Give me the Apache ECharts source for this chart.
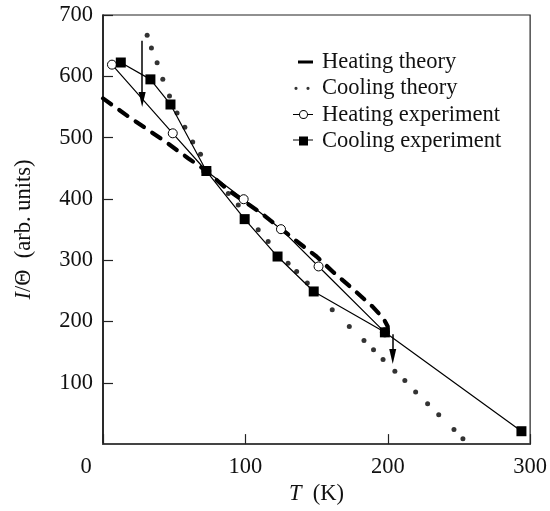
<!DOCTYPE html>
<html><head><meta charset="utf-8">
<script src="https://cdn.jsdelivr.net/npm/echarts@6/dist/echarts.min.js"></script>
<style>html,body{margin:0;padding:0;background:#fff}#c{width:550px;height:511px}</style>
</head><body><div id="c"></div>
<script>
// ---- data ----
const xTicks = [0, 100, 200, 300];
const yTicks = [100, 200, 300, 400, 500, 600, 700];

const heatingTheoryT = [0, 18, 32, 44, 60, 73, 88, 111, 135, 150, 162, 176, 189, 197, 200];
const heatingTheoryV = [564, 534, 512, 493, 466, 445, 414, 377, 333, 306, 280, 252, 225, 205, 192];

const coolingTheoryT = [31, 34, 38, 42, 46.7, 52, 57.5, 63, 68.5, 88, 95, 109, 116, 130, 136, 143.5, 161, 173, 183.3, 190, 196.7, 205, 212, 219.6, 228, 235.8, 246.5, 252.8];
const coolingTheoryV = [667, 646, 622, 595, 568, 540, 517, 493, 473, 409, 390, 349.5, 330.5, 295, 281.6, 262.7, 219, 192, 169, 154, 138, 119, 103.7, 85, 66, 48, 24, 8.8];

const heatingExpT = [6.3, 49, 72.6, 98.8, 125, 151.4, 198];
const heatingExpV = [619, 507, 445.5, 399.5, 350.6, 289.8, 182.3];

const coolingExpT = [12.5, 33.3, 47.4, 72.6, 99.5, 122.6, 148, 198, 293.9];
const coolingExpV = [622.5, 595, 554, 445.5, 367, 306, 249, 182.3, 21];

// arrows: [T, from value, T, to value]
const arrows = [[27.5, 658, 27.5, 562], [203.5, 179, 203.5, 143]];

const seriesNames = ['Heating theory', 'Cooling theory', 'Heating experiment', 'Cooling experiment'];

// ---- chart ----
const zip = (a, b) => a.map((v, i) => [v, b[i]]);
const FONT = 'Liberation Serif';
const FS = 22.5;
const TXT = '#111';

const icons = [
  'path://M0,0 M26,10 M7,3.5 L22,3.5 L22,6.5 L7,6.5 Z',
  'path://M0,0 M26,10 M6.6,5 A1.6,1.6 0 1 1 3.4,5 A1.6,1.6 0 1 1 6.6,5 Z M18.6,5 A1.6,1.6 0 1 1 15.4,5 A1.6,1.6 0 1 1 18.6,5 Z',
  'path://M0,0 M26,10 M2,4.5 L8,4.5 L8,5.5 L2,5.5 Z M17,5 A4.5,4.5 0 1 1 8,5 A4.5,4.5 0 1 1 17,5 Z M16,5 A3.5,3.5 0 1 0 9,5 A3.5,3.5 0 1 0 16,5 Z M17,4.5 L22,4.5 L22,5.5 L17,5.5 Z',
  'path://M0,0 M26,10 M2,3.6 L8,3.6 L8,4.6 L2,4.6 Z M8,0.5 L17,0.5 L17,9.5 L8,9.5 Z M17,3.6 L22,3.6 L22,4.6 L17,4.6 Z'
];

const chart = echarts.init(document.getElementById('c'), null, {renderer: 'canvas'});
chart.setOption({
  animation: false,
  backgroundColor: '#fff',
  grid: {left: 103, right: 15, top: 15, bottom: 66, show: true, borderColor: '#222', borderWidth: 1.2, backgroundColor: 'transparent'},
  legend: {
    orient: 'vertical', left: 286, top: 45.5, itemWidth: 26, itemHeight: 10, itemGap: 3.3,
    selectedMode: false,
    textStyle: {fontFamily: FONT, fontSize: FS, color: TXT},
    data: seriesNames.map((n, i) => ({name: n, icon: icons[i], itemStyle: {color: '#000', borderWidth: 0}}))
  },
  xAxis: {
    type: 'value', min: xTicks[0], max: xTicks[xTicks.length - 1], interval: xTicks[1] - xTicks[0],
    name: '{i|T}  (K)', nameLocation: 'middle', nameGap: 37,
    nameTextStyle: {fontFamily: FONT, fontSize: FS, color: TXT, rich: {i: {fontFamily: FONT, fontSize: FS, fontStyle: 'italic', color: TXT}}},
    axisLine: {show: true, onZero: false, lineStyle: {color: '#444', width: 2}},
    axisTick: {show: true, inside: true, length: 10, lineStyle: {color: '#222', width: 1.2}},
    axisLabel: {margin: 11, fontFamily: FONT, fontSize: FS, color: TXT,
      formatter: v => v === 0 ? '{z|0}' : String(v),
      rich: {z: {fontFamily: FONT, fontSize: FS, color: TXT, padding: [0, 34, 0, 0]}}},
    splitLine: {show: false}
  },
  yAxis: {
    type: 'value', min: 0, max: yTicks[yTicks.length - 1], interval: yTicks[1] - yTicks[0],
    name: '{i|I}/Θ  (arb. units)', nameLocation: 'middle', nameGap: 67,
    nameTextStyle: {fontFamily: FONT, fontSize: FS, color: TXT, rich: {i: {fontFamily: FONT, fontSize: FS, fontStyle: 'italic', color: TXT}}},
    axisLine: {show: true, lineStyle: {color: '#111', width: 1.5}},
    axisTick: {show: true, inside: true, length: 10, lineStyle: {color: '#222', width: 1.2}},
    axisLabel: {margin: 10, fontFamily: FONT, fontSize: FS, color: TXT, showMinLabel: false},
    splitLine: {show: false}
  },
  series: [
    {
      name: seriesNames[0], type: 'line', data: zip(heatingTheoryT, heatingTheoryV),
      symbol: 'none', showSymbol: false, z: 2, emphasis: {disabled: true},
      lineStyle: {color: '#000', width: 4.2, type: [10, 10], cap: 'round'},
      itemStyle: {color: '#000'},
      markLine: {
        silent: true, symbol: ['none', 'triangle'], symbolSize: [7, 15], animation: false,
        label: {show: false}, emphasis: {disabled: true},
        lineStyle: {color: '#000', width: 1.5, type: 'solid'},
        data: arrows.map(a => [{coord: [a[0], a[1]]}, {coord: [a[2], a[3]]}])
      }
    },
    {
      name: seriesNames[1], type: 'scatter', data: zip(coolingTheoryT, coolingTheoryV),
      symbol: 'circle', symbolSize: 5, z: 3, emphasis: {disabled: true},
      itemStyle: {color: '#000'}
    },
    {
      name: seriesNames[2], type: 'line', data: zip(heatingExpT, heatingExpV),
      symbol: 'circle', symbolSize: 9, showAllSymbol: true, z: 4, emphasis: {disabled: true},
      lineStyle: {color: '#000', width: 1.2},
      itemStyle: {color: '#fff', borderColor: '#000', borderWidth: 1}
    },
    {
      name: seriesNames[3], type: 'line', data: zip(coolingExpT, coolingExpV),
      symbol: 'rect', symbolSize: 10, showAllSymbol: true, z: 5, emphasis: {disabled: true},
      lineStyle: {color: '#000', width: 1.2},
      itemStyle: {color: '#000'}
    }
  ]
});
</script></body></html>
